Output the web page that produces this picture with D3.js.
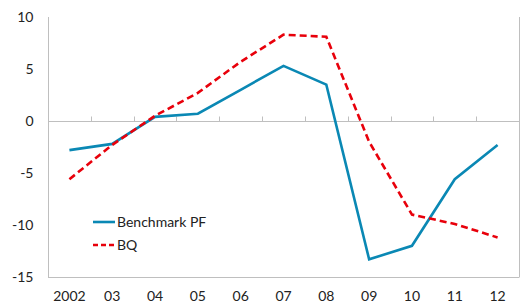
<!DOCTYPE html>
<html><head><meta charset="utf-8">
<script src="https://cdn.jsdelivr.net/npm/d3@7"></script>
<style>body{margin:0;background:#fff}svg{display:block}text{font-family:Lato,"Open Sans",sans-serif;fill:#222}</style>
</head><body><div id="c"></div>
<script>
const categories = ["2002","03","04","05","06","07","08","09","10","11","12"];
const benchmarkPF = [-2.8,-2.2,0.4,0.7,3.0,5.3,3.5,-13.3,-12.0,-5.6,-2.3];
const bq = [-5.6,-2.3,0.5,2.7,5.7,8.3,8.1,-2.0,-9.0,-9.9,-11.2];
const yTicks = [10,5,0,-5,-10,-15];
const seriesNames = ["Benchmark PF","BQ"];

const W=526,H=304;
const svg=d3.select("#c").append("svg").attr("width",W).attr("height",H);
const x=d3.scaleBand().domain(categories).range([48,519]);
const y=d3.scaleLinear().domain([-15,10]).range([277,17]);
const grey="#bfbfbf";

// frame
svg.append("line").attr("x1",48.5).attr("x2",48.5).attr("y1",y(10)).attr("y2",y(-15)).attr("stroke",grey);
svg.append("line").attr("x1",48).attr("x2",519.5).attr("y1",y(-15)+0.5).attr("y2",y(-15)+0.5).attr("stroke",grey);
svg.append("line").attr("x1",519.5).attr("x2",519.5).attr("y1",y(10)).attr("y2",y(-15)).attr("stroke",grey);

// y axis
const ya=svg.append("g").attr("transform","translate(48.5,0)").call(d3.axisLeft(y).tickValues(yTicks).tickFormat(d=>String(d)).tickSize(0).tickPadding(14));
ya.select(".domain").remove();
ya.selectAll("text").style("font-size","14px").attr("fill","#222").attr("dy","0.35em");
ya.selectAll("text").attr("x",-15);

// zero line with ticks between categories
const zy=Math.round(y(0))+0.5;
svg.append("line").attr("x1",48).attr("x2",519).attr("y1",zy).attr("y2",zy).attr("stroke",grey);
categories.slice(1).forEach(c=>{
  const xx=Math.round(x(c))+0.5;
  svg.append("line").attr("x1",xx).attr("x2",xx).attr("y1",zy).attr("y2",zy-5).attr("stroke",grey);
});

// x labels
const xa=svg.append("g").attr("transform","translate(0,"+(y(-15))+")").call(d3.axisBottom(x).tickSize(0).tickPadding(14));
xa.select(".domain").remove();
xa.selectAll("text").style("font-size","14px").attr("fill","#222");

const line=d3.line().x((d,i)=>x(categories[i])+x.bandwidth()/2).y(d=>y(d));
svg.append("path").datum(benchmarkPF).attr("d",line).attr("fill","none").attr("stroke","#0a88b4").attr("stroke-width",2.6);
svg.append("path").datum(bq).attr("d",line).attr("fill","none").attr("stroke","#e8000b").attr("stroke-width",2.6).attr("stroke-dasharray","7,4");

// legend
const lg=svg.append("g");
lg.append("line").attr("x1",93).attr("x2",115).attr("y1",222).attr("y2",222).attr("stroke","#0a88b4").attr("stroke-width",2.6);
lg.append("text").attr("x",117).attr("y",222).attr("dy","0.35em").style("font-size","14px").text(seriesNames[0]);
lg.append("line").attr("x1",93).attr("x2",115).attr("y1",245).attr("y2",245).attr("stroke","#e8000b").attr("stroke-width",2.6).attr("stroke-dasharray","5,3");
lg.append("text").attr("x",117).attr("y",245).attr("dy","0.35em").style("font-size","14px").text(seriesNames[1]);
</script></body></html>
